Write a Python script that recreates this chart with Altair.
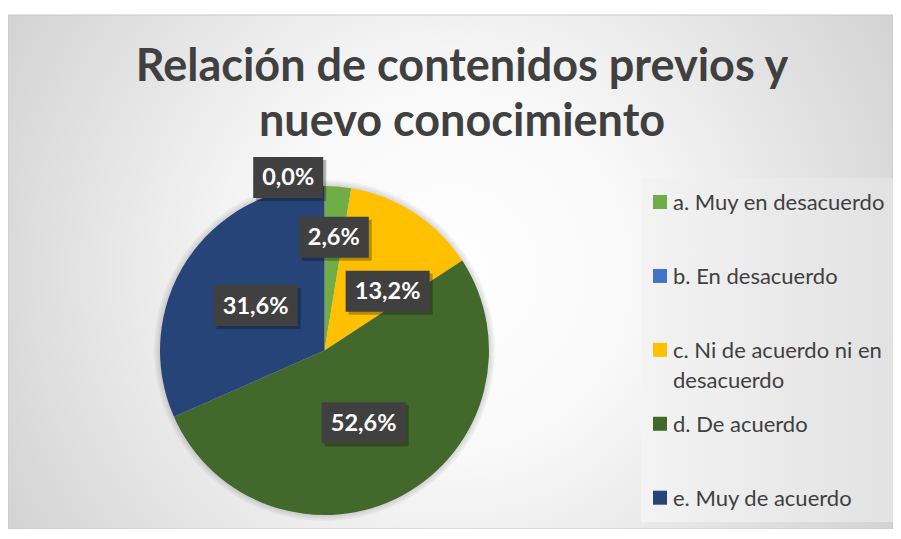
import altair as alt
import pandas as pd
import math

# ---- data ----
categories = [
    "a. Muy en desacuerdo",
    "b. En desacuerdo",
    "c. Ni de acuerdo ni en desacuerdo",
    "d. De acuerdo",
    "e. Muy de acuerdo",
]
legend_text = [
    "a. Muy en desacuerdo",
    "b. En desacuerdo",
    "c. Ni de acuerdo ni en|desacuerdo",
    "d. De acuerdo",
    "e. Muy de acuerdo",
]
percent = [2.6, 0.0, 13.2, 52.6, 31.6]
labels = ["2,6%", "0,0%", "13,2%", "52,6%", "31,6%"]
colors = ["#70AD47", "#4472C4", "#FFC000", "#43682B", "#264478"]
title_lines = ["Relación de contenidos previos y", "nuevo conocimiento"]

# ---- layout ----
W, H = 885, 514
R = 164.5
CX, CY = 316.5, 335.5

df = pd.DataFrame({
    "cat": categories,
    "legend": legend_text,
    "pct": percent,
    "label": labels,
    "order": list(range(len(categories))),
})

xs = alt.Scale(domain=[-CX / R, (W - CX) / R], nice=False, zero=False)
ys = alt.Scale(domain=[-(H - CY) / R, CY / R], nice=False, zero=False)
color = alt.Color("cat:N", scale=alt.Scale(domain=categories, range=colors), legend=None)

one = alt.Chart(pd.DataFrame({"k": [0]}))

bg = one.mark_rect(
    fill=alt.RadialGradient(
        gradient="radial",
        x1=0.5, y1=0.5, r1=0, x2=0.5, y2=0.5, r2=0.72,
        stops=[
            alt.GradientStop(color="#ffffff", offset=0),
            alt.GradientStop(color="#f8f8f8", offset=0.3),
            alt.GradientStop(color="#c4c4c4", offset=1),
        ],
    ),
    stroke="#c8c8c8",
    strokeWidth=1,
).encode(x=alt.value(0), x2=alt.value("width"), y=alt.value(0), y2=alt.value("height"))

legend_box = one.mark_rect(
    fill=alt.LinearGradient(
        gradient="linear", x1=0, y1=0, x2=1, y2=0,
        stops=[
            alt.GradientStop(color="#f3f3f3", offset=0),
            alt.GradientStop(color="#e2e2e2", offset=1),
        ],
    )
).encode(x=alt.value(633), x2=alt.value(885), y=alt.value(163), y2=alt.value(507))

center_x = alt.XDatum(0, type="quantitative", scale=xs, axis=None)
center_y = alt.YDatum(0, type="quantitative", scale=ys, axis=None)

halo = alt.layer(*[
    one.mark_arc(theta=0, theta2=2 * math.pi, outerRadius=R + d, color="#000000", opacity=0.045)
    .encode(x=center_x, y=center_y)
    for d in (2, 4, 6)
])

base = alt.Chart(df)

arcs = base.mark_arc(outerRadius=R).encode(
    theta=alt.Theta("pct:Q", stack=True),
    order=alt.Order("order:Q"),
    color=color,
    x=center_x,
    y=center_y,
)

lbl = base.transform_joinaggregate(total="sum(pct)").transform_window(
    cum="sum(pct)", sort=[alt.SortField("order")], frame=[None, 0]
).transform_calculate(
    mid="(datum.cum - datum.pct / 2) / datum.total * 2 * PI",
    lr="datum.pct == 0 ? 1.075 : (datum.pct < 5 ? 0.69 : (datum.pct < 20 ? 0.526 : 0.5))",
    la="datum.pct == 0 ? datum.mid - 0.37 : (datum.pct >= 5 && datum.pct < 20 ? datum.mid + 0.24 : datum.mid)",
    lx="datum.lr * sin(datum.la)",
    ly="datum.lr * cos(datum.la)",
    hw=f"(length(datum.label) * 14 + 14) / 2 / {R}",
    hh=f"20.5 / {R}",
    bx1="datum.lx - datum.hw",
    bx2="datum.lx + datum.hw",
    by1="datum.ly - datum.hh",
    by2="datum.ly + datum.hh",
    sx1=f"datum.bx1 + 3 / {R}",
    sx2=f"datum.bx2 + 3 / {R}",
    sy1=f"datum.by1 - 3 / {R}",
    sy2=f"datum.by2 - 3 / {R}",
)

shadows = lbl.mark_rect(color="#000000", opacity=0.28).encode(
    x=alt.X("sx1:Q", scale=xs, axis=None), x2="sx2:Q",
    y=alt.Y("sy1:Q", scale=ys, axis=None), y2="sy2:Q",
)
boxes = lbl.mark_rect(color="#404040").encode(
    x=alt.X("bx1:Q", scale=xs, axis=None), x2="bx2:Q",
    y=alt.Y("by1:Q", scale=ys, axis=None), y2="by2:Q",
)
texts = lbl.mark_text(
    font="Lato", fontWeight="bold", fontSize=23.5, color="white",
    align="center", baseline="middle", dy=1,
).encode(
    x=alt.X("lx:Q", scale=xs, axis=None),
    y=alt.Y("ly:Q", scale=ys, axis=None),
    text="label:N",
)

leg_y = alt.Y("cat:N", scale=alt.Scale(domain=categories, range=[187, 482.7], padding=0), axis=None)
leg_sq = base.mark_square(size=196, opacity=1).encode(x=alt.value(652), y=leg_y, color=color)
leg_tx = base.transform_calculate(lines="split(datum.legend, '|')").mark_text(
    font="Lato", fontSize=22, color="#404040", align="left",
    baseline="alphabetic", dy=8, lineHeight=30,
).encode(x=alt.value(665), y=leg_y, text="lines:N")

title = alt.Chart(alt.Data(values=[{"t": title_lines}])).mark_text(
    font="Lato", fontWeight="bold", fontSize=45, color="#404040",
    align="center", baseline="alphabetic", lineHeight=55,
).encode(x=alt.value(454), y=alt.value(66), text="t:N")

chart = alt.layer(
    bg, legend_box, halo, arcs, shadows, boxes, texts, leg_sq, leg_tx, title
).resolve_scale(x="independent", y="independent").properties(
    width=W, height=H,
    autosize=alt.AutoSizeParams(type="none"),
    padding={"left": 0, "right": 0, "top": 7, "bottom": 0},
    background="white",
).configure_view(stroke=None)

chart.save("out.html", embed_options={"renderer": "svg", "actions": False})
